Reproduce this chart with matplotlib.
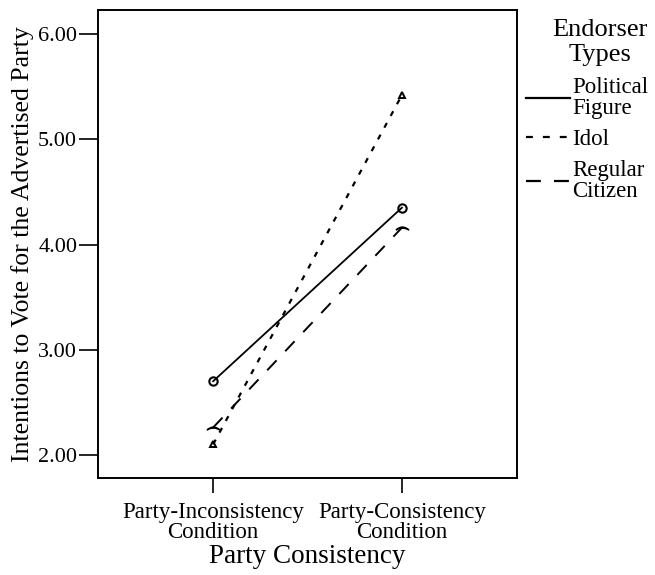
import matplotlib
matplotlib.use("Agg")
import matplotlib.pyplot as plt
from matplotlib.lines import Line2D

# condition means
conditions = ["Party-Inconsistency\nCondition", "Party-Consistency\nCondition"]
political_figure = [2.70, 4.35]
idol = [2.10, 5.42]
regular_citizen = [2.26, 4.16]
y_ticks = [2.0, 3.0, 4.0, 5.0, 6.0]

plt.rcParams["font.family"] = ["Liberation Serif", "DejaVu Serif"]

IDOL_DASH = (0, (2.4, 3.6))
CITIZEN_DASH = (0, (7, 6.5))

fig = plt.figure(figsize=(6.55, 5.75), dpi=100)
ax = fig.add_axes([98 / 655, 1 - 478 / 575, (517 - 98) / 655, (478 - 10) / 575])

x = list(range(len(conditions)))
ax.plot(x, political_figure, color="black", lw=1.3, ls="-",
        marker="o", ms=6, mfc="none", mec="black", mew=1.5)
ax.plot(x, idol, color="black", lw=1.6, ls=IDOL_DASH,
        marker="^", ms=5, mfc="none", mec="black", mew=1.4)
ax.plot(x, regular_citizen, color="black", lw=1.4, ls=CITIZEN_DASH,
        marker=r"$\frown$", ms=9, mec="black", mfc="black")

ax.set_xlim(-0.61, 1.61)
ax.set_ylim(1.78, 6.23)
ax.set_xticks(x)
ax.set_xticklabels(conditions, fontsize=16.5, linespacing=0.95)
ax.set_yticks(y_ticks)
ax.set_yticklabels([f"{v:.2f}" for v in y_ticks], fontsize=16)
ax.tick_params(axis="y", direction="out", length=14, width=1.2, color="black", pad=1)
ax.tick_params(axis="x", direction="out", length=11, width=1.2, color="black", pad=6)
for s in ax.spines.values():
    s.set_linewidth(1.4)

ax.set_xlabel("Party Consistency", fontsize=19.5, labelpad=1)
ax.set_ylabel("Intentions to Vote for the Advertised Party", fontsize=18.5, labelpad=3)

# legend keys: dash patterns tuned so the short key shows 3 / 2 dashes
handles = [
    Line2D([], [], color="black", lw=1.6, ls="-"),
    Line2D([], [], color="black", lw=1.6, ls=(0, (3.1, 4.5))),
    Line2D([], [], color="black", lw=1.6, ls=(0, (6.7, 5.9))),
]
labels = ["Political\nFigure", "Idol", "Regular\nCitizen"]
leg = fig.legend(handles, labels, title="Endorser\nTypes", frameon=False,
                 loc="upper left", bbox_to_anchor=(526 / 655, 1 - 19 / 575),
                 fontsize=16.5, title_fontsize=19, handlelength=1.9,
                 handletextpad=0.1, labelspacing=0.45, borderaxespad=0,
                 borderpad=0)
leg.get_title().set_multialignment("center")
leg._legend_box.align = "right"
for t in leg.get_texts():
    t.set_linespacing(1.0)

fig.savefig("out.png", dpi=100)
